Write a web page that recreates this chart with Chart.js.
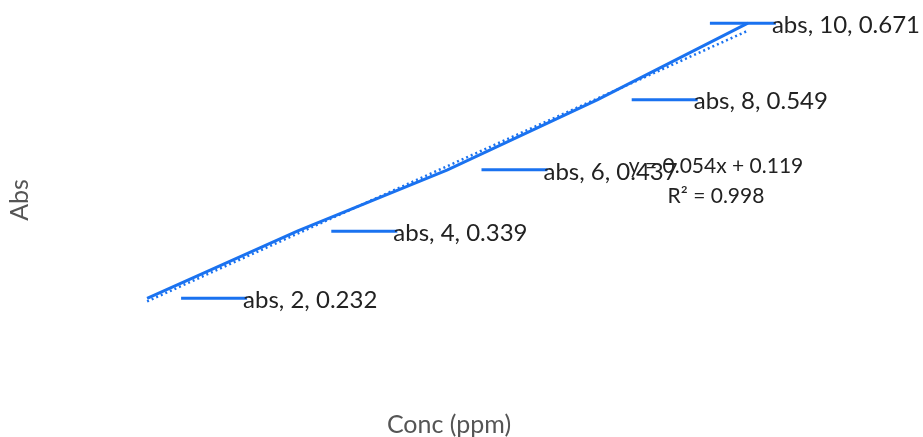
<!DOCTYPE html>
<html>
<head>
<meta charset="utf-8">
<script src="https://cdn.jsdelivr.net/npm/chart.js@4.4.1/dist/chart.umd.min.js"></script>
<style>
  html, body { margin: 0; padding: 0; background: #fff; }
  #wrap { width: 923px; height: 437px; position: relative; }
</style>
</head>
<body>
<div id="wrap"><canvas id="absChart"></canvas></div>
<script>
// values
const concValues = [2, 4, 6, 8, 10];
const absValues = [0.232, 0.339, 0.437, 0.549, 0.671];
const seriesName = 'abs';

// linear trendline as displayed on the chart
const trendX = [2, 10];
const trendY = [0.227, 0.659];
const trendLabel = ['y = 0.054x + 0.119', 'R² = 0.998'];

const xTitle = 'Conc (ppm)';
const yTitle = 'Abs';

const blue = '#1a72f0';
const fontFamily = 'Lato, "Open Sans", sans-serif';

// data labels with leader lines, plus equation and axis titles
const labelPlugin = {
    id: 'excelLabels',
    afterDatasetsDraw(chart) {
        const ctx = chart.ctx;
        const xs = chart.scales.x;
        const ys = chart.scales.y;
        ctx.save();
        ctx.font = '24px ' + fontFamily;
        ctx.textBaseline = 'middle';
        concValues.forEach((c, i) => {
            const px = xs.getPixelForValue(c);
            const py = ys.getPixelForValue(absValues[i]);
            // last label is pushed left by the plot edge
            const shift = i === concValues.length - 1 ? -72 : 0;
            const x0 = px + 34 + shift;
            ctx.strokeStyle = blue;
            ctx.lineWidth = 3;
            ctx.beginPath();
            ctx.moveTo(x0, py);
            ctx.lineTo(x0 + 66, py);
            ctx.stroke();
            ctx.fillStyle = '#222';
            ctx.textAlign = 'left';
            ctx.fillText(seriesName + ', ' + c + ', ' + absValues[i], x0 + 62, py + 2);
        });

        ctx.font = '21px ' + fontFamily;
        ctx.textAlign = 'center';
        ctx.fillStyle = '#222';
        ctx.fillText(trendLabel[0], 716, 166);
        ctx.fillText(trendLabel[1], 716, 196);

        ctx.font = '25px ' + fontFamily;
        ctx.fillStyle = '#555';
        ctx.fillText(xTitle, 449, 425);
        ctx.translate(20, 200);
        ctx.rotate(-Math.PI / 2);
        ctx.fillText(yTitle, 0, 0);
        ctx.restore();
    }
};

const ctx = document.getElementById('absChart').getContext('2d');
new Chart(ctx, {
    type: 'scatter',
    data: {
        datasets: [
            {
                label: seriesName,
                data: concValues.map((c, i) => ({ x: c, y: absValues[i] })),
                showLine: true,
                borderColor: blue,
                borderWidth: 3,
                pointRadius: 0,
                tension: 0
            },
            {
                label: 'Linear (abs)',
                data: trendX.map((c, i) => ({ x: c, y: trendY[i] })),
                showLine: true,
                borderColor: blue,
                borderWidth: 2.5,
                borderDash: [2, 3],
                pointRadius: 0
            }
        ]
    },
    options: {
        responsive: true,
        maintainAspectRatio: false,
        animation: false,
        layout: { padding: { left: 72, right: 100, top: 5, bottom: 56 } },
        plugins: {
            legend: { display: false },
            tooltip: { enabled: false }
        },
        scales: {
            x: { type: 'linear', min: 1, max: 11, display: false },
            y: { type: 'linear', min: 0.1, max: 0.7, display: false }
        }
    },
    plugins: [labelPlugin]
});
</script>
</body>
</html>
